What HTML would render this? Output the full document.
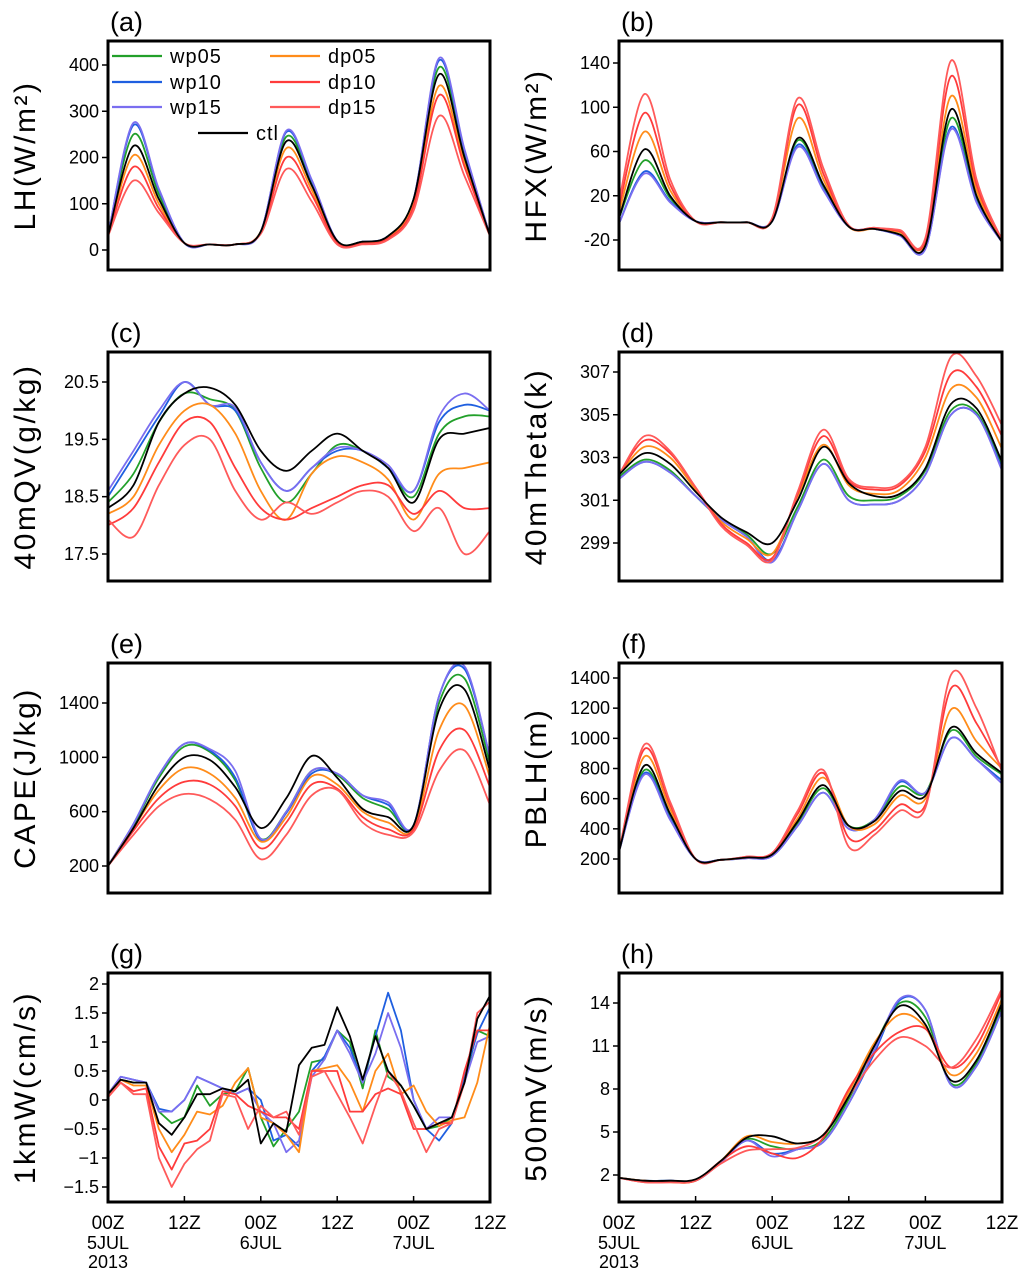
<!DOCTYPE html>
<html><head><meta charset="utf-8"><style>
html,body{margin:0;padding:0;background:#fff}
svg{display:block;font-family:"Liberation Sans",sans-serif}
</style></head><body>
<svg id="chart" width="1024" height="1282" viewBox="0 0 1024 1282"></svg>
<script>
const hours4 = [0,4,8,12,16,20,24,28,32,36,40,44,48,52,56,60];
const hours2 = [0,2,4,6,8,10,12,14,16,18,20,22,24,26,28,30,32,34,36,38,40,42,44,46,48,50,52,54,56,58,60];
const seriesNames = ["wp05","wp10","wp15","dp05","dp10","dp15","ctl"];
const seriesColors = ["#22a02a","#1f5fe0","#7a6ef0","#ff8c1a","#ff3b3b","#ff5a5a","#000000"];
const xTickLabels = ["00Z","12Z","00Z","12Z","00Z","12Z"];
const xTickSub = ["5JUL\n2013","","6JUL","","7JUL",""];
const xTickHours = [0,12,24,36,48,60];

// Panel a LH
const lhTicks=[0,100,200,300,400];
const lh_wp05=[30,250,120,15,12,12,40,245,145,20,18,30,110,395,210,30];
const lh_wp10=[30,270,130,15,12,12,40,255,150,20,18,30,110,410,215,30];
const lh_wp15=[30,275,132,15,12,12,40,258,152,20,18,30,110,415,218,30];
const lh_dp05=[30,205,100,15,12,12,40,220,130,18,16,28,100,355,190,30];
const lh_dp10=[30,180,90,15,12,12,38,200,120,15,14,25,95,335,180,30];
const lh_dp15=[30,150,80,15,12,12,35,175,105,12,12,22,85,290,160,30];
const lh_ctl=[30,225,110,15,12,12,40,235,140,20,18,30,110,380,200,30];
// Panel b HFX
const hfxTicks=[-20,20,60,100,140];
const hfx_wp05=[0,52,18,-3,-4,-4,-3,70,28,-8,-10,-15,-27,90,18,-22];
const hfx_wp10=[-5,42,15,-3,-4,-4,-3,66,26,-8,-10,-16,-28,82,15,-22];
const hfx_wp15=[-5,40,14,-3,-4,-4,-3,64,25,-8,-10,-16,-28,80,14,-22];
const hfx_dp05=[5,78,25,-3,-4,-4,-2,90,35,-8,-10,-13,-22,110,25,-22];
const hfx_dp10=[10,95,30,-3,-4,-4,-1,102,40,-7,-9,-12,-20,128,30,-20];
const hfx_dp15=[15,112,35,-3,-4,-4,0,108,45,-7,-9,-11,-18,142,35,-20];
const hfx_ctl=[0,62,20,-3,-4,-4,-3,72,30,-8,-10,-15,-25,98,20,-22];
// Panel c QV
const qvTicks=[17.5,18.5,19.5,20.5];
const qv_wp05=[18.4,18.9,19.8,20.3,20.2,20.0,19.0,18.4,18.9,19.4,19.3,19.0,18.5,19.6,19.9,19.9];
const qv_wp10=[18.5,19.2,19.9,20.5,20.1,20.0,19.1,18.6,19.0,19.3,19.3,19.0,18.6,19.8,20.1,20.0];
const qv_wp15=[18.6,19.3,20.0,20.5,20.1,20.05,19.1,18.6,19.0,19.35,19.3,19.05,18.6,19.9,20.3,20.0];
const qv_dp05=[18.2,18.5,19.4,20.0,20.1,19.6,18.6,18.1,18.9,19.2,19.1,18.8,18.1,18.9,19.0,19.1];
const qv_dp10=[18.0,18.3,19.1,19.8,19.8,19.0,18.3,18.1,18.3,18.5,18.7,18.7,18.2,18.6,18.3,18.3];
const qv_dp15=[18.1,17.8,18.7,19.4,19.5,18.6,18.1,18.4,18.2,18.4,18.6,18.5,17.9,18.3,17.5,17.9];
const qv_ctl=[18.3,18.7,19.8,20.3,20.4,20.1,19.3,18.95,19.3,19.6,19.3,19.0,18.4,19.5,19.6,19.7];
// Panel d Theta
const thTicks=[299,301,303,305,307];
const th_wp05=[302.1,302.9,302.4,301.2,300.1,299.4,298.5,300.7,302.9,301.2,301.0,301.2,302.4,305.2,305.1,302.6];
const th_wp10=[302.0,302.8,302.3,301.2,300.1,299.3,298.2,300.5,302.7,301.0,300.8,301.0,302.2,305.0,305.0,302.5];
const th_wp15=[302.0,302.8,302.3,301.2,300.1,299.3,298.1,300.5,302.7,301.0,300.8,301.0,302.2,305.0,305.0,302.4];
const th_dp05=[302.2,303.5,303.0,301.5,300.0,299.2,298.5,301.2,303.6,301.7,301.3,301.5,303.0,306.2,305.8,303.4];
const th_dp10=[302.2,303.8,303.2,301.6,299.9,299.0,298.3,301.3,304.0,301.9,301.5,301.7,303.3,306.9,306.3,304.0];
const th_dp15=[302.2,304.0,303.3,301.6,299.8,298.9,298.2,301.4,304.3,302.0,301.6,301.8,303.5,307.7,306.8,304.5];
const th_ctl=[302.2,303.2,302.7,301.4,300.2,299.5,299.0,301.0,303.5,301.8,301.2,301.3,302.5,305.5,305.3,302.8];
// Panel e CAPE
const capeTicks=[200,600,1000,1400];
const cape_wp05=[200,500,850,1080,1040,830,400,600,900,870,700,620,500,1400,1580,950];
const cape_wp10=[200,510,870,1100,1050,850,390,590,880,880,720,650,500,1450,1650,1000];
const cape_wp15=[200,510,870,1100,1060,900,400,600,900,880,720,670,500,1450,1670,1000];
const cape_dp05=[200,480,760,920,880,700,380,560,860,800,600,520,480,1200,1380,850];
const cape_dp10=[200,460,700,820,800,640,330,520,800,770,560,470,470,1050,1200,780];
const cape_dp15=[200,430,640,730,690,540,250,430,720,760,520,430,450,900,1050,650];
const cape_ctl=[200,480,800,1000,980,780,480,700,1010,850,620,560,500,1350,1500,900];
// Panel f PBLH
const pblhTicks=[200,400,600,800,1000,1200,1400];
const pblh_wp05=[250,790,480,200,195,210,230,440,670,420,460,680,640,1050,880,760];
const pblh_wp10=[250,770,470,200,195,205,220,420,640,400,460,710,640,1000,860,720];
const pblh_wp15=[250,760,460,200,195,205,220,420,640,400,460,720,640,1000,860,700];
const pblh_dp05=[250,880,530,200,195,210,235,470,740,420,430,620,600,1190,980,800];
const pblh_dp10=[250,930,560,200,195,215,240,500,770,340,390,560,560,1330,1100,800];
const pblh_dp15=[250,960,580,200,195,215,240,520,790,280,360,520,540,1420,1200,780];
const pblh_ctl=[250,820,500,200,195,210,230,450,690,420,450,650,620,1070,900,770];
// Panel g 1kmW (2-hourly)
const wTicks=[-1.5,-1,-0.5,0,0.5,1,1.5,2];
const w_wp05=[0.1,0.35,0.3,0.3,-0.2,-0.4,-0.3,0.25,-0.1,0.1,0.15,0.55,-0.3,-0.8,-0.5,-0.2,0.65,0.7,1.2,1.0,0.2,1.2,0.4,0.25,-0.1,-0.5,-0.45,-0.3,0.3,1.2,1.1];
const w_wp10=[0.1,0.4,0.35,0.3,-0.15,-0.2,0.0,0.4,0.3,0.2,0.1,0.2,0.0,-0.7,-0.6,-0.8,0.5,0.75,1.2,0.9,0.3,1.1,1.85,1.2,0.0,-0.5,-0.7,-0.4,0.4,1.15,1.6];
const w_wp15=[0.1,0.4,0.35,0.3,-0.2,-0.2,0.0,0.4,0.3,0.2,0.1,0.2,-0.2,-0.4,-0.9,-0.7,0.4,0.7,1.2,0.8,0.3,0.8,1.5,0.9,0.0,-0.5,-0.3,-0.3,0.3,1.0,1.1];
const w_dp05=[0.1,0.35,0.25,0.25,-0.5,-0.9,-0.6,-0.2,-0.25,-0.1,0.3,0.55,-0.3,-0.4,-0.6,-0.9,0.5,0.55,0.6,0.3,-0.2,0.5,0.8,0.1,0.25,-0.2,-0.45,-0.35,-0.3,0.3,1.3];
const w_dp10=[0.05,0.3,0.15,0.2,-0.8,-1.2,-0.75,-0.7,-0.5,0.15,0.1,-0.1,-0.2,-0.3,-0.3,-0.5,0.5,0.5,0.5,-0.2,-0.2,0.1,0.2,0.1,-0.5,-0.5,-0.4,-0.4,0.5,1.2,1.2];
const w_dp15=[0.05,0.3,0.1,0.1,-1.0,-1.5,-1.1,-0.85,-0.7,0.1,0.05,-0.5,-0.1,-0.3,-0.2,-0.6,0.4,0.5,0.1,-0.3,-0.75,-0.1,0.5,0.15,-0.4,-0.9,-0.5,-0.4,0.3,1.5,1.7];
const w_ctl=[0.1,0.35,0.3,0.3,-0.4,-0.6,-0.3,0.1,0.1,0.2,0.15,0.35,-0.75,-0.4,-0.55,0.6,0.9,0.95,1.6,1.1,0.35,1.1,0.5,0.25,-0.1,-0.5,-0.4,-0.3,0.3,1.4,1.8];
// Panel h 500mV
const vTicks=[2,5,8,11,14];
const v_wp05=[1.8,1.6,1.6,1.6,3.0,4.5,4.0,3.8,4.5,7.3,11.0,14.0,13.0,8.4,9.8,13.8];
const v_wp10=[1.8,1.6,1.6,1.6,2.9,4.4,3.5,3.8,4.3,7.0,10.5,14.2,13.5,8.3,9.6,13.5];
const v_wp15=[1.8,1.6,1.6,1.6,2.9,4.4,3.3,3.8,4.3,7.0,10.7,14.3,13.5,8.3,9.6,13.5];
const v_dp05=[1.8,1.6,1.5,1.6,3.0,4.7,4.3,4.2,4.8,7.8,11.2,13.2,12.3,9.0,10.5,14.3];
const v_dp10=[1.8,1.5,1.5,1.6,3.0,4.0,3.5,3.2,4.6,8.0,10.5,12.0,12.2,9.5,11.0,14.8];
const v_dp15=[1.8,1.5,1.5,1.6,2.8,3.7,3.8,3.9,4.8,7.5,10.0,11.6,11.0,9.5,11.5,15.0];
const v_ctl=[1.8,1.6,1.6,1.7,3.0,4.6,4.7,4.2,4.8,7.5,11.0,13.8,12.5,8.6,10.0,14.0];

const NS="http://www.w3.org/2000/svg";
const svg=document.getElementById('chart');
function mk(tag,attrs,parent){const e=document.createElementNS(NS,tag);for(const k in attrs)e.setAttribute(k,attrs[k]);(parent||svg).appendChild(e);return e;}

const panels=[
 {id:"a",title:"LH(W/m²)",x0:108,x1:490,top:41,bot:270,v0:0,p0:250,v1:400,p1:65,ticks:lhTicks,fmt:v=>v,hours:hours4,data:[lh_wp05,lh_wp10,lh_wp15,lh_dp05,lh_dp10,lh_dp15,lh_ctl]},
 {id:"b",title:"HFX(W/m²)",x0:619,x1:1002,top:41,bot:270,v0:-20,p0:240,v1:140,p1:63,ticks:hfxTicks,fmt:v=>v,hours:hours4,data:[hfx_wp05,hfx_wp10,hfx_wp15,hfx_dp05,hfx_dp10,hfx_dp15,hfx_ctl]},
 {id:"c",title:"40mQV(g/kg)",x0:108,x1:490,top:352,bot:581,v0:17.5,p0:554,v1:20.5,p1:382,ticks:qvTicks,fmt:v=>v.toFixed(1),hours:hours4,data:[qv_wp05,qv_wp10,qv_wp15,qv_dp05,qv_dp10,qv_dp15,qv_ctl]},
 {id:"d",title:"40mTheta(k)",x0:619,x1:1002,top:352,bot:581,v0:299,p0:543,v1:307,p1:372,ticks:thTicks,fmt:v=>v,hours:hours4,data:[th_wp05,th_wp10,th_wp15,th_dp05,th_dp10,th_dp15,th_ctl]},
 {id:"e",title:"CAPE(J/kg)",x0:108,x1:490,top:663,bot:893,v0:200,p0:866,v1:1400,p1:703,ticks:capeTicks,fmt:v=>v,hours:hours4,data:[cape_wp05,cape_wp10,cape_wp15,cape_dp05,cape_dp10,cape_dp15,cape_ctl]},
 {id:"f",title:"PBLH(m)",x0:619,x1:1002,top:663,bot:893,v0:200,p0:859,v1:1400,p1:678,ticks:pblhTicks,fmt:v=>v,hours:hours4,data:[pblh_wp05,pblh_wp10,pblh_wp15,pblh_dp05,pblh_dp10,pblh_dp15,pblh_ctl]},
 {id:"g",title:"1kmW(cm/s)",x0:108,x1:490,top:973,bot:1202,v0:-1.5,p0:1187,v1:2,p1:984,ticks:wTicks,fmt:v=>String(v).replace('-','−'),hours:hours2,linear:true,data:[w_wp05,w_wp10,w_wp15,w_dp05,w_dp10,w_dp15,w_ctl]},
 {id:"h",title:"500mV(m/s)",x0:619,x1:1002,top:973,bot:1202,v0:2,p0:1175,v1:14,p1:1003,ticks:vTicks,fmt:v=>v,hours:hours4,data:[v_wp05,v_wp10,v_wp15,v_dp05,v_dp10,v_dp15,v_ctl]}
];

function smoothPath(pts){
 let d=`M${pts[0][0].toFixed(1)},${pts[0][1].toFixed(1)}`;
 for(let i=0;i<pts.length-1;i++){
  const p0=pts[Math.max(0,i-1)],p1=pts[i],p2=pts[i+1],p3=pts[Math.min(pts.length-1,i+2)];
  const c1x=p1[0]+(p2[0]-p0[0])/6,c1y=p1[1]+(p2[1]-p0[1])/6;
  const c2x=p2[0]-(p3[0]-p1[0])/6,c2y=p2[1]-(p3[1]-p1[1])/6;
  d+=` C${c1x.toFixed(1)},${c1y.toFixed(1)} ${c2x.toFixed(1)},${c2y.toFixed(1)} ${p2[0].toFixed(1)},${p2[1].toFixed(1)}`;
 }
 return d;
}

panels.forEach(p=>{
 const g=mk('g',{});
 
 
 const xs=h=>p.x0+(h/60)*(p.x1-p.x0);
 const ys=v=>p.p0+(v-p.v0)*(p.p1-p.p0)/(p.v1-p.v0);
 const lbl=mk('text',{x:p.x0+2,y:p.top-10,'font-size':27,fill:'#000'},g);
 lbl.textContent='('+p.id+')';
 
 
 const cx=p.x0-73,cy=(p.top+p.bot)/2;
 const t=mk('text',{x:cx,y:cy,'font-size':30,'text-anchor':'middle',transform:`rotate(-90 ${cx} ${cy})`,'letter-spacing':'2.5',fill:'#000'},g);
 t.textContent=p.title;
 
 
 p.ticks.forEach(v=>{
  const y=ys(v);
  mk('line',{x1:p.x0-6,x2:p.x0,y1:y,y2:y,stroke:'#000','stroke-width':1.5},g);
  const tl=mk('text',{x:p.x0-9,y:y+6,'font-size':18,'text-anchor':'end',fill:'#000'},g);
  tl.textContent=p.fmt(v);
  
  
 });
 const clipId='clip'+p.id;
 const cp=mk('clipPath',{id:clipId},g);
 mk('rect',{x:p.x0,y:p.top,width:p.x1-p.x0,height:p.bot-p.top},cp);
 p.data.forEach((arr,si)=>{
  const pts=arr.map((v,i)=>[xs(p.hours[i]),ys(v)]);
  const d=p.linear?('M'+pts.map(q=>q[0].toFixed(1)+','+q[1].toFixed(1)).join(' L')):smoothPath(pts);
  const path=mk('path',{d:d,fill:'none',stroke:seriesColors[si],'stroke-width':1.8,'stroke-linejoin':'round','clip-path':`url(#${clipId})`},g);
  
  
 });
 const fr=mk('rect',{x:p.x0,y:p.top,width:p.x1-p.x0,height:p.bot-p.top,fill:'none',stroke:'#000','stroke-width':3},g);
 
 
 if(p.id==='g'||p.id==='h'){
  xTickHours.forEach((h,i)=>{
   const x=xs(h);
   mk('line',{x1:x,x2:x,y1:p.bot,y2:p.bot-6,stroke:'#000','stroke-width':1.5},g);
   const tl=mk('text',{x:x,y:p.bot+27,'font-size':19,'text-anchor':'middle',fill:'#000'},g);
   tl.textContent=xTickLabels[i];
   
   
   xTickSub[i].split('\n').forEach((s,j)=>{
    if(!s)return;
    const st=mk('text',{x:x,y:p.bot+47+j*19,'font-size':18,'text-anchor':'middle',fill:'#000'},g);
    st.textContent=s;
    
    
   });
  });
 }
});

// legend in panel a
const leg=mk('g',{});


const legPos=[[112,56],[112,82],[112,107],[270,56],[270,82],[270,107],[198,133]];
legPos.forEach((pp,i)=>{
 mk('line',{x1:pp[0],x2:pp[0]+50,y1:pp[1],y2:pp[1],stroke:seriesColors[i],'stroke-width':2.2},leg);
 const tx=mk('text',{x:pp[0]+58,y:pp[1]+7,'font-size':20,fill:'#000','letter-spacing':'1'},leg);
 tx.textContent=seriesNames[i];
 
 
});
</script>
</body></html>
